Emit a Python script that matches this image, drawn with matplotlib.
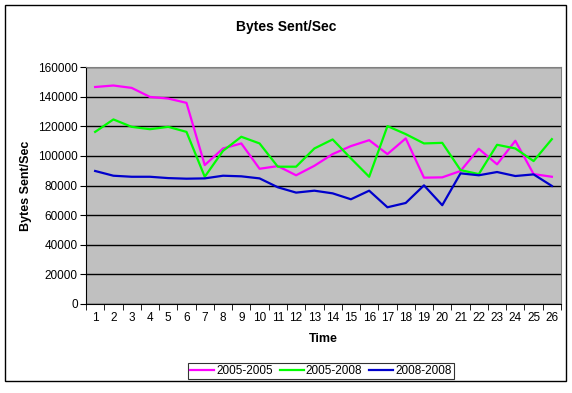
import matplotlib
matplotlib.use("Agg")
import matplotlib.pyplot as plt
from matplotlib.patches import Rectangle
import numpy as np

plt.rcParams['font.family'] = ['Liberation Sans', 'DejaVu Sans']

time_points = list(range(1, 27))
series_names = ["2005-2005", "2005-2008", "2008-2008"]
s_2005_2005 = [146500, 147500, 145900, 139800, 138700, 135800, 93800, 105000, 108400, 91300,
               93100, 86900, 93300, 101200, 106600, 110600, 101200, 111800, 85300, 85500,
               89800, 104800, 94300, 110200, 87700, 85900]
s_2005_2008 = [116200, 124600, 119600, 118000, 119600, 116200, 85900, 103400, 112900, 108400,
               92700, 92700, 105000, 111100, 98300, 85900, 120100, 114700, 108400, 108800,
               90400, 87700, 107500, 105000, 96500, 111300]
s_2008_2008 = [89800, 86600, 85900, 85900, 85000, 84600, 84800, 86600, 86200, 84800,
               78800, 75200, 76500, 74700, 70700, 76500, 65300, 68200, 80100, 66700,
               88200, 86900, 89100, 86400, 87500, 79700]
colors = ["#FF00FF", "#00FF00", "#0000CC"]
y_ticks = list(range(0, 160001, 20000))

fig = plt.figure(figsize=(5.72, 3.93), dpi=100)
fig.patch.set_facecolor("white")
fig.patches.append(Rectangle((5/572, 1-381/393), 561/572, 376/393, transform=fig.transFigure,
                             fill=False, edgecolor="black", linewidth=1.0))

ax = fig.add_axes([86/572, 1-304/393, 475/572, 237/393])
ax.set_facecolor("#C0C0C0")
for name, vals, c in zip(series_names, [s_2005_2005, s_2005_2008, s_2008_2008], colors):
    ax.plot(time_points, vals, color=c, linewidth=1.6, label=name)

ax.set_xlim(0.5, 26.5)
ax.set_ylim(0, 160000)
ax.set_yticks(y_ticks)
ax.set_yticklabels([str(v) for v in y_ticks], fontsize=8.5)
ax.yaxis.grid(True, color="black", linewidth=1.0)
ax.set_axisbelow(True)
ax.set_xticks(time_points)
ax.set_xticklabels([str(t) for t in time_points], fontsize=8.5)
ax.set_xticks(np.arange(0.5, 27, 1), minor=True)
ax.tick_params(axis='x', which='major', length=0, pad=6)
ax.tick_params(axis='x', which='minor', length=4, direction='out', color='black')
ax.tick_params(axis='y', length=4, direction='out', color='black', pad=2)
for sp in ax.spines.values():
    sp.set_color("#808080")
ax.spines['left'].set_color("black")
ax.spines['bottom'].set_color("black")

fig.text(286/572, 1-27/393, "Bytes Sent/Sec", fontsize=10, fontweight='bold',
         ha='center', va='center')
ax.set_xlabel("Time", fontsize=9, fontweight='bold', labelpad=6)
ax.set_ylabel("Bytes Sent/Sec", fontsize=9, fontweight='bold', labelpad=4)

leg = fig.legend(loc='center', bbox_to_anchor=(321/572, 1-371/393), ncol=3, fontsize=8.5,
                 frameon=True, fancybox=False, edgecolor='black', handlelength=2.0,
                 handletextpad=0.2, columnspacing=0.6, borderpad=0.2, borderaxespad=0)
leg.get_frame().set_linewidth(0.8)

fig.savefig("out.png", dpi=100)
